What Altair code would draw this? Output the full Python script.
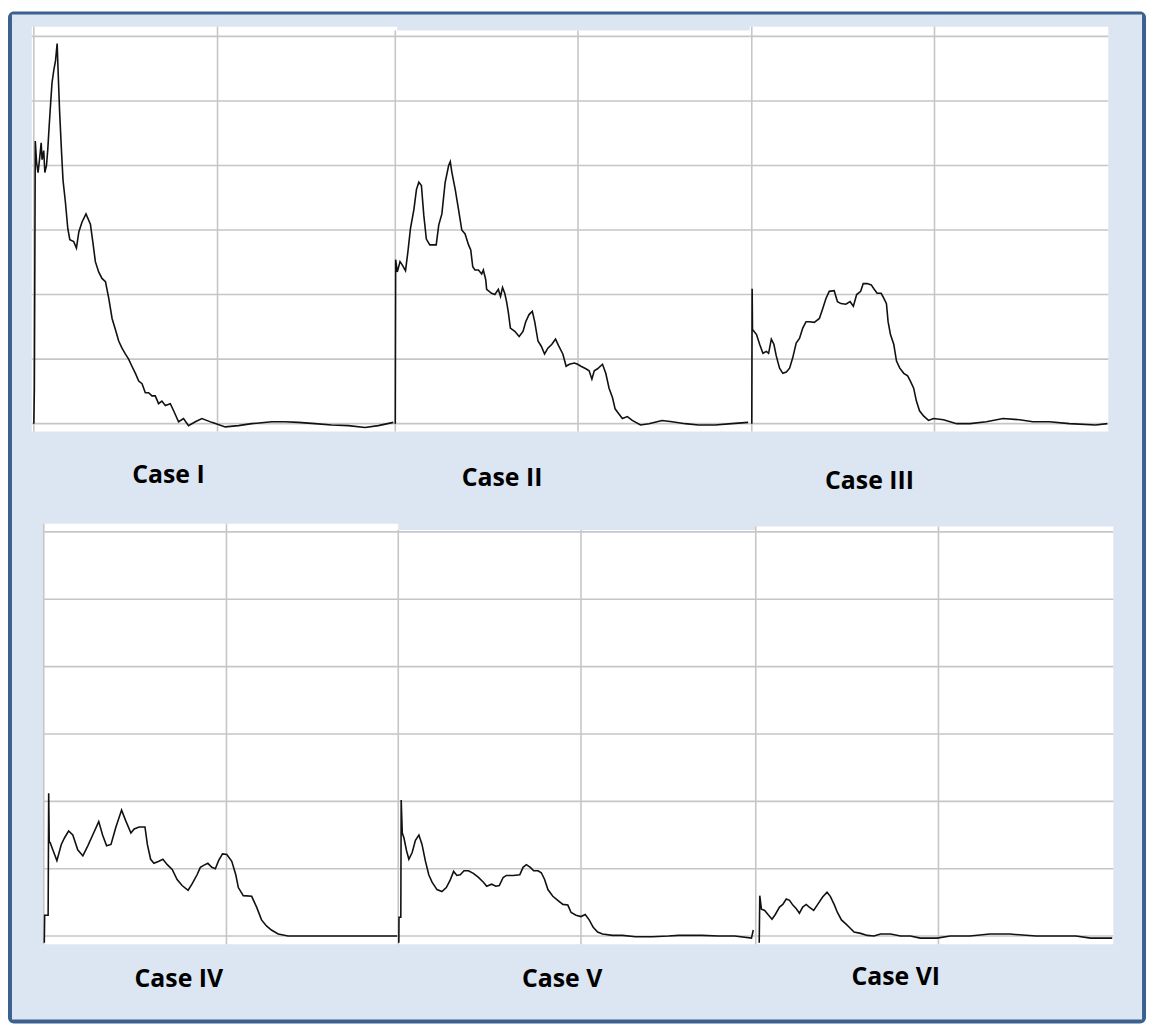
import altair as alt
import pandas as pd

# ---------------- data ----------------
case1_x = [0, 0.3, 0.8, 1.5, 2.3, 3.1, 4.0, 4.5, 5.4, 6.0, 6.9, 7.6, 8.2, 9.1, 9.9, 10.9, 11.8, 12.7, 13.2, 14.0,
           15.1, 15.9, 17.2, 18.5, 19.6, 21.7, 23.2, 24.5, 26.2, 28.4, 30.8, 32.1, 33.5, 35.3, 37.1, 39.0, 40.8,
           42.6, 44.4, 46.2, 48.0, 49.8, 51.6, 53.4, 55.3, 57.1, 58.9, 60.7, 62.5, 64.3, 66.1, 67.9, 69.7, 71.6,
           74.3, 76.1, 78.8, 81.5, 84.2, 87.9, 91.5, 96.9, 104.2, 111.4, 118.6, 129.5, 136.8, 144.0, 153.1, 162.1,
           171.2, 180.3, 187.5, 195.7]
case1_y = [0, 5.4, 43.8, 40.5, 38.9, 40.9, 43.5, 40.9, 42.3, 38.9, 40.0, 42.5, 45.4, 49.4, 52.8, 54.8, 56.2, 58.9,
           54.8, 48.6, 42.0, 37.7, 34.3, 30.2, 28.5, 28.2, 27.2, 29.7, 31.2, 32.5, 30.9, 28.2, 25.1, 23.5, 22.5,
           22.0, 19.4, 16.3, 14.6, 12.8, 11.7, 10.8, 10.0, 8.9, 7.8, 6.6, 6.2, 4.8, 4.8, 4.3, 4.3, 3.1, 3.5, 2.8,
           3.1, 2.0, 0.3, 0.8, -0.3, 0.3, 0.8, 0.2, -0.5, -0.3, 0, 0.3, 0.3, 0.2, 0, -0.2, -0.3, -0.6, -0.3, 0.2]

case2_x = [0, 0.2, 1.1, 2.6, 3.8, 5.6, 6.9, 8.3, 10.2, 11.6, 12.9, 14.3, 15.6, 17.0, 18.9, 22.4, 23.8, 25.5, 27.3,
           29.2, 30.1, 31.0, 32.8, 34.6, 36.4, 38.2, 40.1, 41.3, 42.4, 43.6, 45.5, 47.3, 48.2, 49.5, 50.0, 52.7,
           54.5, 56.4, 57.6, 58.7, 59.9, 60.9, 61.8, 63.0, 65.4, 67.8, 69.9, 71.4, 73.2, 75.0, 76.3, 78.1, 79.9,
           81.7, 83.5, 85.7, 87.7, 89.5, 91.7, 93.5, 95.3, 98.0, 99.8, 101.6, 104.3, 106.1, 107.6, 108.9, 110.7,
           113.4, 115.2, 117.0, 118.9, 120.3, 122.4, 124.3, 127.0, 129.7, 134.2, 138.8, 146.0, 151.5, 158.7,
           165.9, 175.0, 184.1, 193.1]
case2_y = [0, 25.4, 23.5, 25.1, 24.6, 23.7, 26.6, 30.2, 33.2, 36.3, 37.4, 36.9, 32.3, 28.6, 27.7, 27.7, 30.8, 32.5,
           37.4, 40.0, 40.6, 38.9, 36.3, 33.2, 30.0, 29.4, 27.7, 26.9, 24.3, 23.8, 23.8, 23.2, 23.8, 22.3, 20.8,
           20.2, 20.0, 20.8, 19.7, 21.1, 20.2, 18.9, 17.4, 14.8, 14.3, 13.5, 14.3, 15.8, 16.9, 17.4, 15.8, 12.8,
           12.0, 10.8, 11.7, 12.3, 13.1, 12.0, 10.8, 8.9, 9.2, 9.4, 9.2, 8.9, 8.5, 8.2, 6.9, 8.2, 8.5, 9.2, 7.8,
           5.5, 4.0, 2.3, 1.5, 0.8, 1.1, 0.5, -0.2, 0, 0.5, 0.3, 0, -0.2, -0.2, 0, 0.2]

case3_x = [0, 0.2, 0.4, 2.6, 4.3, 6.1, 8.0, 9.2, 10.7, 12.1, 13.4, 15.2, 17.0, 18.9, 20.7, 22.4, 24.3, 26.1, 27.9,
           29.7, 31.5, 34.2, 37.0, 38.8, 40.6, 42.4, 45.1, 46.9, 48.8, 51.5, 53.8, 55.6, 57.4, 59.6, 61.0, 63.2,
           65.4, 66.8, 68.6, 70.8, 72.3, 73.7, 74.6, 75.9, 77.7, 79.2, 81.0, 83.2, 85.3, 86.8, 88.6, 90.1, 91.8,
           94.0, 96.7, 99.5, 104.9, 112.1, 119.4, 128.4, 137.5, 146.6, 153.8, 162.9, 173.8, 188.2, 194.6]
case3_y = [0, 20.9, 14.6, 13.8, 12.3, 10.9, 11.2, 10.9, 13.1, 12.3, 10.5, 8.6, 7.8, 8.0, 8.6, 10.2, 12.5, 13.2, 14.8,
           15.8, 15.8, 15.7, 16.3, 17.8, 19.4, 20.5, 20.6, 18.9, 18.6, 18.5, 18.9, 18.2, 20.0, 20.5, 21.7, 21.7,
           21.5, 20.9, 20.2, 20.2, 19.4, 18.6, 15.8, 13.8, 12.3, 9.7, 8.6, 7.8, 7.4, 6.6, 5.5, 3.5, 2.0, 1.2, 0.5,
           0.8, 0.6, 0, 0, 0.3, 0.8, 0.6, 0.3, 0.3, 0, -0.2, 0]

case4_x = [0.3, 0.5, 2.4, 2.7, 3.0, 3.5, 5.1, 7.2, 9.6, 11.4, 13.6, 15.9, 18.6, 21.4, 24.1, 26.8, 30.1, 32.2, 34.4,
           36.8, 39.5, 42.6, 44.9, 47.7, 49.5, 52.2, 55.4, 56.7, 58.5, 60.3, 63.0, 65.2, 67.6, 70.3, 73.0, 75.7,
           79.0, 81.1, 83.9, 85.7, 87.5, 89.8, 92.0, 93.9, 95.7, 97.8, 100.2, 102.9, 105.1, 106.5, 109.2, 113.8,
           116.5, 119.2, 121.9, 124.6, 128.3, 133.7, 193.5]
case4_y = [-1.0, 3.1, 3.1, 21.2, 13.9, 13.9, 12.7, 11.2, 13.6, 14.6, 15.6, 15.0, 12.8, 11.9, 13.4, 15.0, 17.0, 15.0,
           13.4, 13.6, 16.2, 18.7, 17.1, 15.3, 15.9, 16.2, 16.2, 13.6, 11.4, 10.8, 11.1, 11.4, 10.6, 9.9, 8.4, 7.5,
           6.8, 7.7, 9.1, 10.2, 10.5, 10.8, 10.2, 10.0, 11.2, 12.2, 12.1, 11.1, 9.1, 7.2, 6.0, 5.9, 4.3, 2.4, 1.5,
           0.9, 0.3, 0, 0]

case5_x = [0.3, 0.4, 1.4, 1.6, 2.2, 3.1, 4.5, 5.8, 7.6, 9.4, 11.3, 13.0, 14.8, 16.7, 18.5, 21.2, 23.9, 26.3, 28.4,
           30.3, 32.1, 33.9, 36.0, 38.4, 41.1, 43.9, 46.6, 48.4, 51.1, 53.4, 55.3, 57.4, 59.2, 62.9, 66.5, 68.3,
           70.1, 72.3, 74.1, 76.5, 78.3, 80.1, 81.9, 84.6, 87.3, 90.1, 92.8, 94.6, 97.3, 100.0, 102.3, 104.5,
           106.7, 109.1, 111.8, 117.2, 122.7, 129.9, 139.0, 148.0, 153.4, 166.1, 175.2, 184.2, 193.3, 194.3]
case5_y = [-1.0, 2.8, 2.8, 20.2, 15.3, 14.6, 12.7, 11.4, 12.4, 14.2, 15.0, 13.6, 11.2, 9.1, 8.0, 6.9, 6.6, 7.2, 8.3,
           9.6, 9.0, 9.1, 9.7, 9.7, 9.3, 8.7, 8.0, 7.4, 7.7, 7.4, 7.5, 8.7, 9.0, 9.0, 9.1, 10.2, 10.6, 10.2, 9.7,
           9.7, 9.4, 8.4, 6.9, 5.9, 5.3, 4.7, 4.6, 3.5, 3.1, 2.9, 3.2, 2.4, 1.3, 0.6, 0.3, 0.1, 0.1, -0.1, -0.1, 0,
           0.1, 0.1, 0, 0, -0.3, 0.9]

case6_x = [1.9, 2.2, 3.1, 4.9, 6.7, 8.9, 10.7, 13.0, 14.8, 16.7, 18.5, 20.3, 22.1, 23.9, 25.7, 27.6, 29.3, 31.7,
           33.9, 36.6, 39.0, 40.8, 42.9, 44.7, 46.9, 49.3, 51.6, 53.8, 57.4, 61.0, 64.7, 68.3, 73.8, 79.2, 84.6,
           90.1, 99.1, 106.4, 117.2, 128.1, 139.0, 153.4, 166.1, 175.2, 183.3, 195.1]
case6_y = [-1.0, 6.0, 4.0, 3.8, 3.2, 2.5, 3.2, 4.3, 4.7, 5.5, 5.3, 4.6, 4.1, 3.4, 4.3, 4.7, 4.3, 3.8, 4.7, 5.8, 6.5,
           5.9, 4.7, 3.5, 2.4, 1.8, 1.2, 0.6, 0.4, 0.1, 0, 0.3, 0.3, 0, 0, -0.3, -0.3, 0, 0, 0.3, 0.3, 0, 0, 0,
           -0.3, -0.3]

labels = ["Case I", "Case II", "Case III", "Case IV", "Case V", "Case VI"]
x_grid = [0, 100]
y_grid = [0, 10, 20, 30, 40, 50, 60]

# ---------------- styling / layout ----------------
BG = "#dce6f2"
BORDER = "#3b6190"
GRID = "#c6c6c6"
W, H = 1148, 1020
X_DOMAIN = [0, 200]
Y_DOMAIN = [0, 60]

# per panel: x pixel range, y pixel range, white area (x0, x1, y0, y1) in data units
panels = [
    (case1_x, case1_y, [26, 396], [415, 25], (-1.1, 197.8, -1.2, 61.5)),
    (case2_x, case2_y, [390, 758], [415, 25], (0, 195.0, -1.2, 60.9)),
    (case3_x, case3_y, [749, 1117], [415, 25], (-1.1, 195.1, -1.2, 61.5)),
    (case4_x, case4_y, [36, 404], [931, 524], (0, 194.0, -1.2, 61.2)),
    (case5_x, case5_y, [393, 761], [931, 524], (0, 195.7, -1.2, 60.3)),
    (case6_x, case6_y, [753, 1121], [931, 524], (0, 195.7, -1.2, 60.8)),
]
label_pos = [(161.5, 475), (497.5, 478), (867.5, 481), (172, 982), (558, 982), (894, 980)]

one = pd.DataFrame({"k": [0]})


def panel(xs, ys, xr, yr, white):
    xsc = alt.Scale(domain=X_DOMAIN, range=xr, nice=False, zero=False)
    ysc = alt.Scale(domain=Y_DOMAIN, range=yr, nice=False, zero=False)
    bg = alt.Chart(pd.DataFrame({"x0": [white[0]], "x1": [white[1]],
                                 "y0": [white[2]], "y1": [white[3]]})).mark_rect(
        fill="white").encode(
        x=alt.X("x0:Q", scale=xsc, axis=None), x2="x1",
        y=alt.Y("y0:Q", scale=ysc, axis=None), y2="y1")
    hg = alt.Chart(pd.DataFrame({"v": y_grid, "a": white[0], "b": white[1]})).mark_rule(
        color=GRID, strokeWidth=1.6).encode(
        y=alt.Y("v:Q", scale=ysc, axis=None),
        x=alt.X("a:Q", scale=xsc, axis=None), x2="b")
    vg = alt.Chart(pd.DataFrame({"v": x_grid, "a": white[2], "b": white[3]})).mark_rule(
        color=GRID, strokeWidth=1.6).encode(
        x=alt.X("v:Q", scale=xsc, axis=None),
        y=alt.Y("a:Q", scale=ysc, axis=None), y2="b")
    ln = alt.Chart(pd.DataFrame({"x": xs, "y": ys, "i": list(range(len(xs)))})).mark_line(
        color="#111111", strokeWidth=1.6, interpolate="linear").encode(
        x=alt.X("x:Q", scale=xsc, axis=None),
        y=alt.Y("y:Q", scale=ysc, axis=None),
        order="i:Q")
    return alt.layer(bg, hg, vg, ln)


frame_outer = alt.Chart(one).mark_rect(fill=BORDER, cornerRadius=6).encode(
    x=alt.value(0), x2=alt.value(1146), y=alt.value(0), y2=alt.value(1019))
frame_inner = alt.Chart(one).mark_rect(fill=BG).encode(
    x=alt.value(4), x2=alt.value(1142), y=alt.value(3), y2=alt.value(1015))

texts = []
for lab, (lx, ly) in zip(labels, label_pos):
    texts.append(alt.Chart(one).mark_text(
        text=lab, font="Open Sans", fontWeight="bold", fontSize=25, color="#000000",
        align="center", baseline="alphabetic").encode(x=alt.value(lx), y=alt.value(ly)))

layers = [frame_outer, frame_inner] + texts + [panel(*p) for p in panels]

chart = alt.layer(*layers).resolve_scale(x="independent", y="independent").properties(
    width=W, height=H, padding=0, autosize=alt.AutoSizeParams(type="none"),
    background="white"
).configure_view(stroke=None)

chart.save("out.html", embed_options={"renderer": "svg", "actions": False})
